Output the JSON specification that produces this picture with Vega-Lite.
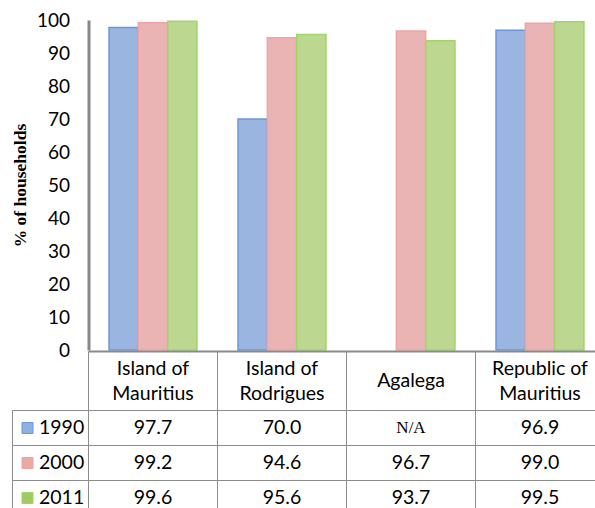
{
  "$schema": "https://vega.github.io/schema/vega-lite/v6.json",
  "width": 583,
  "height": 488,
  "autosize": "none",
  "padding": {"left": 12, "top": 20, "right": 0, "bottom": 0},
  "background": "white",
  "config": {"view": {"stroke": null}, "font": "Lato"},
  "datasets": {
    "main": [
      {"region": "Island of\nMauritius", "year": "1990", "value": 97.7},
      {"region": "Island of\nMauritius", "year": "2000", "value": 99.2},
      {"region": "Island of\nMauritius", "year": "2011", "value": 99.6},
      {"region": "Island of\nRodrigues", "year": "1990", "value": 70.0},
      {"region": "Island of\nRodrigues", "year": "2000", "value": 94.6},
      {"region": "Island of\nRodrigues", "year": "2011", "value": 95.6},
      {"region": "Agalega", "year": "1990", "value": null},
      {"region": "Agalega", "year": "2000", "value": 96.7},
      {"region": "Agalega", "year": "2011", "value": 93.7},
      {"region": "Republic of\nMauritius", "year": "1990", "value": 96.9},
      {"region": "Republic of\nMauritius", "year": "2000", "value": 99.0},
      {"region": "Republic of\nMauritius", "year": "2011", "value": 99.5}
    ],
    "regions": [
      {"region": "Island of\nMauritius"},
      {"region": "Island of\nRodrigues"},
      {"region": "Agalega"},
      {"region": "Republic of\nMauritius"}
    ],
    "years": [{"year": "1990"}, {"year": "2000"}, {"year": "2011"}]
  },
  "resolve": {"scale": {"x": "independent", "y": "independent", "fill": "independent", "stroke": "independent"}},
  "layer": [
    {
      "data": {"name": "regions"},
      "mark": {"type": "rect", "fill": null, "fillOpacity": 0, "stroke": "#8c8c8c", "strokeWidth": 1},
      "encoding": {
        "x": {"field": "region", "type": "nominal", "sort": null, "axis": null,
          "scale": {"domain": ["Island of\nMauritius", "Island of\nRodrigues", "Agalega", "Republic of\nMauritius"], "range": [76.5, 592.5], "paddingInner": 0, "paddingOuter": 0}},
        "y": {"datum": "header", "type": "nominal", "axis": null,
          "scale": {"domain": ["header"], "range": [331.5, 390.5], "paddingInner": 0, "paddingOuter": 0}}
      }
    },
    {
      "data": {"name": "main"},
      "mark": {"type": "rect", "fill": null, "fillOpacity": 0, "stroke": "#8c8c8c", "strokeWidth": 1},
      "encoding": {
        "x": {"field": "region", "type": "nominal", "sort": null, "axis": null,
          "scale": {"domain": ["Island of\nMauritius", "Island of\nRodrigues", "Agalega", "Republic of\nMauritius"], "range": [76.5, 592.5], "paddingInner": 0, "paddingOuter": 0}},
        "y": {"field": "year", "type": "nominal", "axis": null,
          "scale": {"domain": ["1990", "2000", "2011"], "range": [390.5, 495.5], "paddingInner": 0, "paddingOuter": 0}}
      }
    },
    {
      "data": {"name": "years"},
      "mark": {"type": "rect", "fill": null, "fillOpacity": 0, "stroke": "#8c8c8c", "strokeWidth": 1},
      "encoding": {
        "x": {"datum": "label", "type": "nominal", "axis": null,
          "scale": {"domain": ["label"], "range": [0.5, 76.5], "paddingInner": 0, "paddingOuter": 0}},
        "y": {"field": "year", "type": "nominal", "axis": null,
          "scale": {"domain": ["1990", "2000", "2011"], "range": [390.5, 495.5], "paddingInner": 0, "paddingOuter": 0}}
      }
    },
    {
      "data": {"name": "main"},
      "mark": {"type": "bar", "strokeWidth": 1.5},
      "encoding": {
        "x": {"field": "region", "type": "nominal", "sort": null,
          "scale": {"domain": ["Island of\nMauritius", "Island of\nRodrigues", "Agalega", "Republic of\nMauritius"], "range": [76.5, 592.5], "paddingInner": 0, "paddingOuter": 0},
          "axis": {"orient": "bottom", "offset": -157, "labels": false, "ticks": false, "title": null, "domainColor": "#8a8a8a", "domainWidth": 2, "zindex": 1}},
        "xOffset": {"field": "year", "type": "nominal",
          "scale": {"domain": ["1990", "2000", "2011"], "paddingInner": 0, "paddingOuter": 0.7}},
        "y": {"field": "value", "type": "quantitative",
          "scale": {"domain": [0, 100], "range": [330, 0]},
          "axis": {"orient": "left", "offset": -76.5, "values": [0, 10, 20, 30, 40, 50, 60, 70, 80, 90, 100],
            "ticks": false, "grid": false, "domainColor": "#878787", "domainWidth": 3, "zindex": 1,
            "labelFont": "Lato", "labelFontSize": 19, "labelColor": "#000000", "labelPadding": 19, "labelOverlap": false,
            "title": "% of households", "titleFont": "Liberation Serif", "titleFontWeight": "bold", "titleFontSize": 17.5,
            "titleColor": "#000000", "titlePadding": 7}},
        "fill": {"field": "year", "type": "nominal", "legend": null,
          "scale": {"domain": ["1990", "2000", "2011"], "range": ["#9ab6e0", "#eab4b4", "#bcd78f"]}},
        "stroke": {"field": "year", "type": "nominal", "legend": null,
          "scale": {"domain": ["1990", "2000", "2011"], "range": ["#6a96dc", "#f2a2a2", "#a2d46a"]}}
      }
    },
    {
      "data": {"name": "regions"},
      "transform": [{"filter": "indexof(datum.region, '\\n') >= 0"}],
      "mark": {"type": "text", "lineBreak": "\n", "fontSize": 19.5, "lineHeight": 25, "baseline": "middle", "align": "center", "color": "#000000", "dy": -12.5},
      "encoding": {
        "x": {"field": "region", "type": "nominal", "sort": null, "axis": null,
          "scale": {"domain": ["Island of\nMauritius", "Island of\nRodrigues", "Agalega", "Republic of\nMauritius"], "range": [76.5, 592.5], "paddingInner": 0, "paddingOuter": 0}},
        "y": {"datum": "header", "type": "nominal", "axis": null,
          "scale": {"domain": ["header"], "range": [331.5, 390.5], "paddingInner": 0, "paddingOuter": 0}},
        "text": {"field": "region"}
      }
    },
    {
      "data": {"name": "regions"},
      "transform": [{"filter": "indexof(datum.region, '\\n') < 0"}],
      "mark": {"type": "text", "fontSize": 19.5, "baseline": "middle", "align": "center", "color": "#000000"},
      "encoding": {
        "x": {"field": "region", "type": "nominal", "sort": null, "axis": null,
          "scale": {"domain": ["Island of\nMauritius", "Island of\nRodrigues", "Agalega", "Republic of\nMauritius"], "range": [76.5, 592.5], "paddingInner": 0, "paddingOuter": 0}},
        "y": {"datum": "header", "type": "nominal", "axis": null,
          "scale": {"domain": ["header"], "range": [331.5, 390.5], "paddingInner": 0, "paddingOuter": 0}},
        "text": {"field": "region"}
      }
    },
    {
      "data": {"name": "main"},
      "transform": [{"filter": "datum.value != null"}],
      "mark": {"type": "text", "fontSize": 19.5, "baseline": "middle", "align": "center", "color": "#000000"},
      "encoding": {
        "x": {"field": "region", "type": "nominal", "sort": null, "axis": null,
          "scale": {"domain": ["Island of\nMauritius", "Island of\nRodrigues", "Agalega", "Republic of\nMauritius"], "range": [76.5, 592.5], "paddingInner": 0, "paddingOuter": 0}},
        "y": {"field": "year", "type": "nominal", "axis": null,
          "scale": {"domain": ["1990", "2000", "2011"], "range": [390.5, 495.5], "paddingInner": 0, "paddingOuter": 0}},
        "text": {"field": "value", "type": "quantitative", "format": ".1f"}
      }
    },
    {
      "data": {"name": "main"},
      "transform": [{"filter": "datum.value == null"}],
      "mark": {"type": "text", "font": "Liberation Serif", "fontSize": 17, "baseline": "middle", "align": "center", "color": "#000000"},
      "encoding": {
        "x": {"field": "region", "type": "nominal", "sort": null, "axis": null,
          "scale": {"domain": ["Island of\nMauritius", "Island of\nRodrigues", "Agalega", "Republic of\nMauritius"], "range": [76.5, 592.5], "paddingInner": 0, "paddingOuter": 0}},
        "y": {"field": "year", "type": "nominal", "axis": null,
          "scale": {"domain": ["1990", "2000", "2011"], "range": [390.5, 495.5], "paddingInner": 0, "paddingOuter": 0}},
        "text": {"value": "N/A"}
      }
    },
    {
      "data": {"name": "years"},
      "mark": {"type": "square", "size": 121, "opacity": 1, "strokeWidth": 1},
      "encoding": {
        "x": {"datum": "swatch", "type": "nominal", "axis": null,
          "scale": {"type": "point", "domain": ["swatch", "text"], "range": [15.5, 27], "padding": 0}},
        "y": {"field": "year", "type": "nominal", "axis": null,
          "scale": {"domain": ["1990", "2000", "2011"], "range": [390.5, 495.5], "paddingInner": 0, "paddingOuter": 0}},
        "fill": {"field": "year", "type": "nominal", "legend": null,
          "scale": {"domain": ["1990", "2000", "2011"], "range": ["#8fb0e0", "#eaa8a8", "#9fcb62"]}},
        "stroke": {"field": "year", "type": "nominal", "legend": null,
          "scale": {"domain": ["1990", "2000", "2011"], "range": ["#6a96dc", "#f2a2a2", "#a2d46a"]}}
      }
    },
    {
      "data": {"name": "years"},
      "mark": {"type": "text", "fontSize": 19.5, "baseline": "middle", "align": "left", "color": "#000000"},
      "encoding": {
        "x": {"datum": "text", "type": "nominal", "axis": null,
          "scale": {"type": "point", "domain": ["swatch", "text"], "range": [15.5, 27], "padding": 0}},
        "y": {"field": "year", "type": "nominal", "axis": null,
          "scale": {"domain": ["1990", "2000", "2011"], "range": [390.5, 495.5], "paddingInner": 0, "paddingOuter": 0}},
        "text": {"field": "year"}
      }
    }
  ]
}
